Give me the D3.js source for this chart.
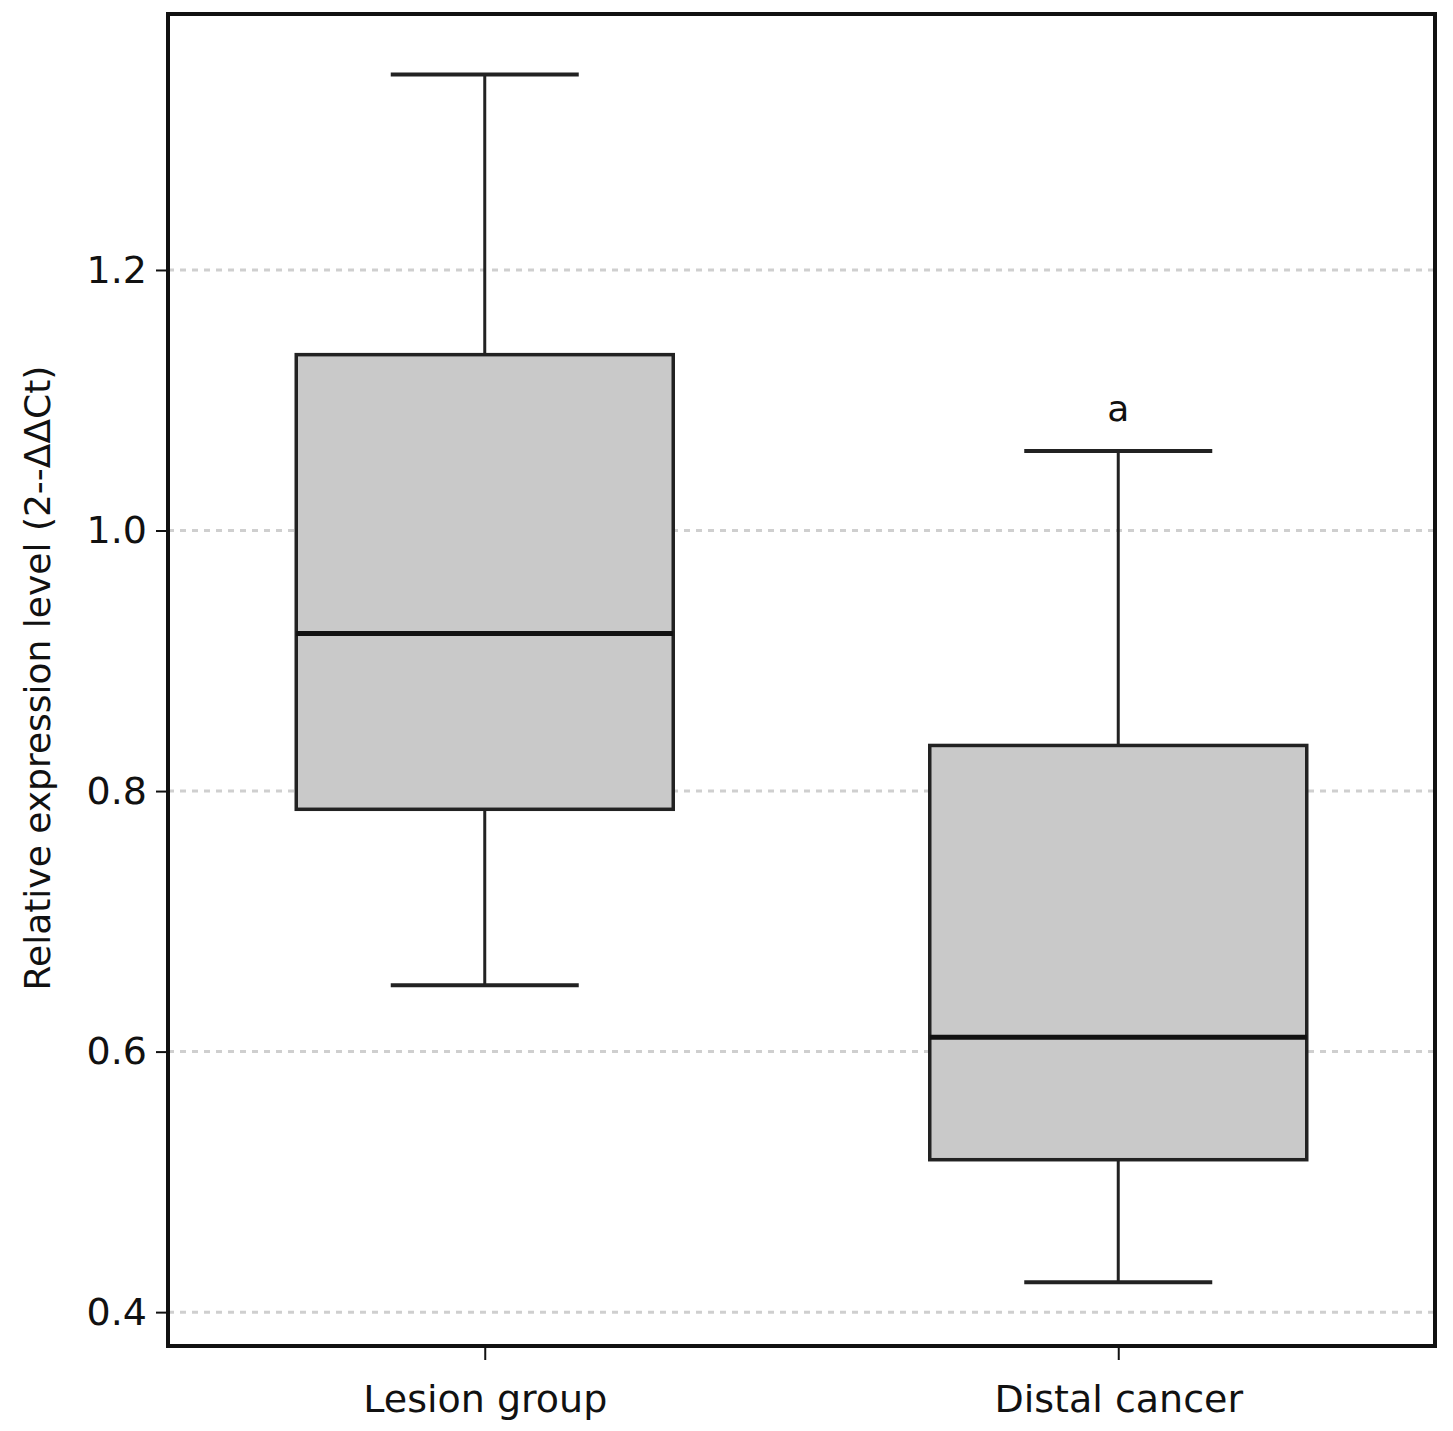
<!DOCTYPE html>
<html>
<head>
<title>Relative expression box plot</title>
<script src="https://cdn.jsdelivr.net/npm/d3@7"></script>
<style>
  body { margin: 0; background: #fff; }
  text { font-family: "DejaVu Sans", Verdana, sans-serif; fill: #111; }
</style>
</head>
<body>
<script>
// data
var groups = ["Lesion group", "Distal cancer"];
var whiskerLow = [0.651, 0.423];
var q1 = [0.786, 0.517];
var median = [0.921, 0.611];
var q3 = [1.135, 0.835];
var whiskerHigh = [1.350, 1.061];
var yTicks = [0.4, 0.6, 0.8, 1.0, 1.2];
var marks = ["", "a"];

var margin = {top: 14, right: 18, bottom: 85, left: 168},
    width = 1453 - margin.left - margin.right,
    height = 1431 - margin.top - margin.bottom;

var svg = d3.select("body").append("svg")
    .attr("width", 1453).attr("height", 1431)
  .append("g")
    .attr("transform", "translate(" + margin.left + "," + margin.top + ")");

var x = d3.scalePoint().domain(groups).range([0, width]).padding(0.5);
var y = d3.scaleLinear().domain([0.374, 1.3965]).range([height, 0]);

// grid
svg.selectAll(".grid").data(yTicks).enter().append("line")
  .attr("x1", 0).attr("x2", width)
  .attr("y1", function(d) { return y(d); }).attr("y2", function(d) { return y(d); })
  .attr("stroke", "#cfcfcf").attr("stroke-width", 3).attr("stroke-dasharray", "6,6");

var boxW = 377, capW = 188;
var g = svg.selectAll(".box").data(groups).enter().append("g")
  .attr("transform", function(d) { return "translate(" + x(d) + ",0)"; });

g.append("line").attr("x1", 0).attr("x2", 0)
  .attr("y1", function(d, i) { return y(whiskerHigh[i]); })
  .attr("y2", function(d, i) { return y(whiskerLow[i]); })
  .attr("stroke", "#222").attr("stroke-width", 3);
[whiskerHigh, whiskerLow].forEach(function(arr) {
  g.append("line").attr("x1", -capW / 2).attr("x2", capW / 2)
    .attr("y1", function(d, i) { return y(arr[i]); })
    .attr("y2", function(d, i) { return y(arr[i]); })
    .attr("stroke", "#222").attr("stroke-width", 4);
});
g.append("rect").attr("x", -boxW / 2).attr("width", boxW)
  .attr("y", function(d, i) { return y(q3[i]); })
  .attr("height", function(d, i) { return y(q1[i]) - y(q3[i]); })
  .attr("fill", "#c9c9c9").attr("stroke", "#222").attr("stroke-width", 3.5);
g.append("line").attr("x1", -boxW / 2).attr("x2", boxW / 2)
  .attr("y1", function(d, i) { return y(median[i]); })
  .attr("y2", function(d, i) { return y(median[i]); })
  .attr("stroke", "#111").attr("stroke-width", 5);
g.append("text").attr("text-anchor", "middle")
  .attr("y", function(d, i) { return y(whiskerHigh[i]) - 30; })
  .style("font-size", "36px")
  .text(function(d, i) { return marks[i]; });

// frame
svg.append("rect").attr("width", width).attr("height", height)
  .attr("fill", "none").attr("stroke", "#111").attr("stroke-width", 4);

// axes
var yAxis = svg.append("g").call(d3.axisLeft(y).tickValues(yTicks).tickFormat(d3.format(".1f")).tickSize(12));
yAxis.select(".domain").remove();
yAxis.selectAll("line").attr("stroke", "#111").attr("stroke-width", 2);
yAxis.selectAll("text").style("font-size", "38px").attr("dx", "-6");

var xAxis = svg.append("g").attr("transform", "translate(0," + height + ")")
  .call(d3.axisBottom(x).tickSize(14));
xAxis.select(".domain").remove();
xAxis.selectAll("line").attr("stroke", "#111").attr("stroke-width", 2);
xAxis.selectAll("text").style("font-size", "38px").attr("dy", "1.3em");

svg.append("text").attr("transform", "rotate(-90)")
  .attr("x", -664).attr("y", -118)
  .attr("text-anchor", "middle").style("font-size", "36px")
  .text("Relative expression level (2--ΔΔCt)");
</script>
</body>
</html>
